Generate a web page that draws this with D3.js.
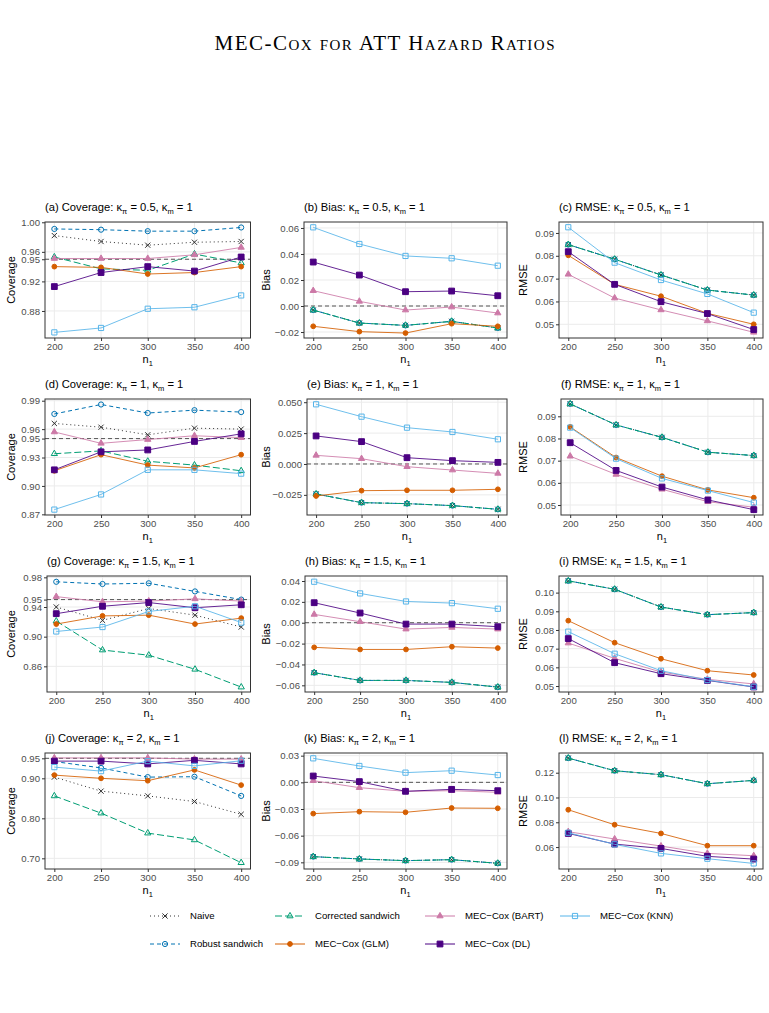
<!DOCTYPE html>
<html>
<head>
<meta charset="utf-8">
<script src="https://cdn.jsdelivr.net/npm/d3@7"></script>
<style>
  body { margin: 0; background: #fff; }
  text { font-family: "Liberation Sans", Arial, sans-serif; }
</style>
</head>
<body>
<div id="chart"></div>
<script>
// x values and series
var n1 = [200, 250, 300, 350, 400];
var seriesKeys = ["naive", "robust", "corrected", "glm", "bart", "dl", "knn"];
var seriesNames = ["Naive", "Robust sandwich", "Corrected sandwich", "MEC\u2212Cox (GLM)",
                   "MEC\u2212Cox (BART)", "MEC\u2212Cox (DL)", "MEC\u2212Cox (KNN)"];

// (a) coverage, kappa_pi = 0.5
var covA_naive     = [0.982, 0.974, 0.969, 0.973, 0.974];
var covA_robust    = [0.991, 0.990, 0.988, 0.988, 0.993];
var covA_corrected = [0.953, 0.937, 0.935, 0.957, 0.945];
var covA_glm       = [0.940, 0.939, 0.930, 0.932, 0.940];
var covA_bart      = [0.951, 0.951, 0.951, 0.956, 0.966];
var covA_dl        = [0.913, 0.932, 0.940, 0.934, 0.953];
var covA_knn       = [0.851, 0.857, 0.883, 0.885, 0.901];
// (b) bias
var biasB_sandwich = [-0.0031, -0.0131, -0.0149, -0.0118, -0.0169];
var biasB_glm      = [-0.0156, -0.0197, -0.0208, -0.0136, -0.0156];
var biasB_bart     = [0.0118, 0.0036, -0.0031, -0.0008, -0.0054];
var biasB_dl       = [0.0338, 0.0238, 0.0110, 0.0115, 0.0079];
var biasB_knn      = [0.0605, 0.0477, 0.0385, 0.0367, 0.0310];
// (c) rmse
var rmseC_sandwich = [0.0849, 0.0785, 0.0716, 0.0650, 0.0628];
var rmseC_glm      = [0.0802, 0.0675, 0.0623, 0.0548, 0.0500];
var rmseC_bart     = [0.0719, 0.0615, 0.0563, 0.0515, 0.0465];
var rmseC_dl       = [0.0818, 0.0675, 0.0599, 0.0547, 0.0477];
var rmseC_knn      = [0.0925, 0.0770, 0.0694, 0.0633, 0.0551];

// (d) coverage, kappa_pi = 1
var covD_naive     = [0.966, 0.962, 0.954, 0.961, 0.960];
var covD_robust    = [0.976, 0.986, 0.977, 0.980, 0.978];
var covD_corrected = [0.934, 0.937, 0.926, 0.922, 0.916];
var covD_glm       = [0.916, 0.933, 0.922, 0.919, 0.933];
var covD_bart      = [0.957, 0.945, 0.949, 0.953, 0.951];
var covD_dl        = [0.917, 0.936, 0.938, 0.947, 0.955];
var covD_knn       = [0.875, 0.891, 0.917, 0.917, 0.913];
// (e) bias
var biasE_sandwich = [-0.0243, -0.0313, -0.0321, -0.0337, -0.0367];
var biasE_glm      = [-0.0259, -0.0216, -0.0213, -0.0213, -0.0205];
var biasE_bart     = [0.0070, 0.0043, -0.0022, -0.0049, -0.0076];
var biasE_dl       = [0.0227, 0.0181, 0.0051, 0.0027, 0.0013];
var biasE_knn      = [0.0483, 0.0383, 0.0294, 0.0259, 0.0200];
// (f) rmse
var rmseF_sandwich = [0.0956, 0.0861, 0.0805, 0.0738, 0.0723];
var rmseF_glm      = [0.0852, 0.0714, 0.0630, 0.0568, 0.0533];
var rmseF_bart     = [0.0720, 0.0638, 0.0571, 0.0515, 0.0490];
var rmseF_dl       = [0.0781, 0.0656, 0.0581, 0.0523, 0.0479];
var rmseF_knn      = [0.0849, 0.0709, 0.0620, 0.0565, 0.0511];

// (g) coverage, kappa_pi = 1.5
var covG_naive     = [0.940, 0.922, 0.938, 0.929, 0.913];
var covG_robust    = [0.974, 0.971, 0.972, 0.961, 0.950];
var covG_corrected = [0.921, 0.882, 0.875, 0.856, 0.832];
var covG_glm       = [0.917, 0.928, 0.929, 0.917, 0.925];
var covG_bart      = [0.954, 0.947, 0.948, 0.951, 0.948];
var covG_dl        = [0.931, 0.941, 0.946, 0.939, 0.943];
var covG_knn       = [0.907, 0.913, 0.934, 0.941, 0.919];
// (h) bias
var biasH_sandwich = [-0.0479, -0.0553, -0.0553, -0.0572, -0.0617];
var biasH_glm      = [-0.0236, -0.0256, -0.0256, -0.0230, -0.0243];
var biasH_bart     = [0.0080, 0.0010, -0.0061, -0.0045, -0.0061];
var biasH_dl       = [0.0192, 0.0093, -0.0013, -0.0013, -0.0038];
var biasH_knn      = [0.0393, 0.0281, 0.0204, 0.0188, 0.0134];
// (i) rmse
var rmseI_sandwich = [0.1063, 0.1018, 0.0923, 0.0882, 0.0893];
var rmseI_glm      = [0.0850, 0.0732, 0.0646, 0.0582, 0.0559];
var rmseI_bart     = [0.0730, 0.0648, 0.0575, 0.0536, 0.0511];
var rmseI_dl       = [0.0754, 0.0625, 0.0566, 0.0530, 0.0495];
var rmseI_knn      = [0.0791, 0.0673, 0.0582, 0.0532, 0.0496];

// (j) coverage, kappa_pi = 2
var covJ_naive     = [0.903, 0.868, 0.856, 0.842, 0.810];
var covJ_robust    = [0.942, 0.926, 0.903, 0.904, 0.856];
var covJ_corrected = [0.856, 0.813, 0.763, 0.746, 0.689];
var covJ_glm       = [0.908, 0.900, 0.894, 0.921, 0.883];
var covJ_bart      = [0.951, 0.951, 0.951, 0.948, 0.948];
var covJ_dl        = [0.943, 0.943, 0.936, 0.945, 0.936];
var covJ_knn       = [0.928, 0.918, 0.943, 0.931, 0.944];
// (k) bias
var biasK_sandwich = [-0.0836, -0.0862, -0.0881, -0.0870, -0.0911];
var biasK_glm      = [-0.0352, -0.0330, -0.0337, -0.0289, -0.0292];
var biasK_bart     = [0.0019, -0.0060, -0.0101, -0.0094, -0.0112];
var biasK_dl       = [0.0071, 0.0008, -0.0101, -0.0079, -0.0094];
var biasK_knn      = [0.0270, 0.0184, 0.0109, 0.0131, 0.0082];
// (l) rmse
var rmseL_sandwich = [0.1318, 0.1216, 0.1184, 0.1111, 0.1138];
var rmseL_glm      = [0.0901, 0.0780, 0.0710, 0.0611, 0.0611];
var rmseL_bart     = [0.0724, 0.0665, 0.0608, 0.0549, 0.0530];
var rmseL_dl       = [0.0710, 0.0624, 0.0589, 0.0525, 0.0503];
var rmseL_knn      = [0.0716, 0.0622, 0.0549, 0.0506, 0.0468];

// tick labels
var ticksA = [0.88, 0.92, 0.95, 0.96, 1.00];
var ticksB = [-0.02, 0.00, 0.02, 0.04, 0.06];
var ticksC = [0.05, 0.06, 0.07, 0.08, 0.09];
var ticksD = [0.87, 0.90, 0.93, 0.95, 0.96, 0.99];
var ticksE = [-0.025, 0.000, 0.025, 0.050];
var ticksF = [0.05, 0.06, 0.07, 0.08, 0.09];
var ticksG = [0.86, 0.90, 0.94, 0.95, 0.98];
var ticksH = [-0.06, -0.04, -0.02, 0.00, 0.02, 0.04];
var ticksI = [0.05, 0.06, 0.07, 0.08, 0.09, 0.10];
var ticksJ = [0.70, 0.80, 0.90, 0.95];
var ticksK = [-0.09, -0.06, -0.03, 0.00, 0.03];
var ticksL = [0.06, 0.08, 0.10, 0.12];
var kappaPi = ["0.5", "1", "1.5", "2"];

// layout
var width = 769, height = 1013;
var rowTop = [222, 399, 576, 753];
var panelH = 116;
var colRight = [250.5, 507, 763];
var yTitleX = [11, 266, 523];

var styles = {
    naive:     { color: "#333333", dash: "1,3", shape: "times",    fill: false, size: 2.6 },
    robust:    { color: "#0072B2", dash: "4,3", shape: "circle",   fill: false, size: 2.6 },
    corrected: { color: "#009E73", dash: "7,3", shape: "triangle", fill: false, size: 3.6 },
    glm:       { color: "#D55E00", dash: null,  shape: "circle",   fill: true,  size: 2.4 },
    bart:      { color: "#CC79A7", dash: null,  shape: "triangle", fill: true,  size: 3.6 },
    dl:        { color: "#4B0082", dash: null,  shape: "square",   fill: true,  size: 2.9 },
    knn:       { color: "#56B4E9", dash: null,  shape: "square",   fill: false, size: 2.6 }
};

function covSet(naive, robust, corrected, glm, bart, dl, knn) {
    return { naive: naive, robust: robust, corrected: corrected, glm: glm, bart: bart, dl: dl, knn: knn };
}
function estSet(sandwich, glm, bart, dl, knn) {
    // naive, robust and corrected sandwich share the same point estimate
    return { naive: sandwich, robust: sandwich, corrected: sandwich, glm: glm, bart: bart, dl: dl, knn: knn };
}

var panels = [
  { tag: "a", kind: "Coverage", row: 0, col: 0, left: 45,  domain: [0.8434, 1.0004], ticks: ticksA, fmt: ".2f", ref: 0.95,
    data: covSet(covA_naive, covA_robust, covA_corrected, covA_glm, covA_bart, covA_dl, covA_knn) },
  { tag: "b", kind: "Bias", row: 0, col: 1, left: 304, domain: [-0.0246, 0.0646], ticks: ticksB, fmt: ".2f", ref: 0,
    data: estSet(biasB_sandwich, biasB_glm, biasB_bart, biasB_dl, biasB_knn) },
  { tag: "c", kind: "RMSE", row: 0, col: 2, left: 559, domain: [0.0440, 0.0948], ticks: ticksC, fmt: ".2f", ref: null,
    data: estSet(rmseC_sandwich, rmseC_glm, rmseC_bart, rmseC_dl, rmseC_knn) },
  { tag: "d", kind: "Coverage", row: 1, col: 0, left: 45,  domain: [0.8693, 0.9918], ticks: ticksD, fmt: ".2f", ref: 0.95,
    data: covSet(covD_naive, covD_robust, covD_corrected, covD_glm, covD_bart, covD_dl, covD_knn) },
  { tag: "e", kind: "Bias", row: 1, col: 1, left: 307, domain: [-0.0413, 0.0526], ticks: ticksE, fmt: ".3f", ref: 0,
    data: estSet(biasE_sandwich, biasE_glm, biasE_bart, biasE_dl, biasE_knn) },
  { tag: "f", kind: "RMSE", row: 1, col: 2, left: 561, domain: [0.0455, 0.0978], ticks: ticksF, fmt: ".2f", ref: null,
    data: estSet(rmseF_sandwich, rmseF_glm, rmseF_bart, rmseF_dl, rmseF_knn) },
  { tag: "g", kind: "Coverage", row: 2, col: 0, left: 47,  domain: [0.8254, 0.9818], ticks: ticksG, fmt: ".2f", ref: 0.95,
    data: covSet(covG_naive, covG_robust, covG_corrected, covG_glm, covG_bart, covG_dl, covG_knn) },
  { tag: "h", kind: "Bias", row: 2, col: 1, left: 305, domain: [-0.0664, 0.0448], ticks: ticksH, fmt: ".2f", ref: 0,
    data: estSet(biasH_sandwich, biasH_glm, biasH_bart, biasH_dl, biasH_knn) },
  { tag: "i", kind: "RMSE", row: 2, col: 2, left: 559, domain: [0.0468, 0.1089], ticks: ticksI, fmt: ".2f", ref: null,
    data: estSet(rmseI_sandwich, rmseI_glm, rmseI_bart, rmseI_dl, rmseI_knn) },
  { tag: "j", kind: "Coverage", row: 3, col: 0, left: 45,  domain: [0.6733, 0.9633], ticks: ticksJ, fmt: ".2f", ref: 0.95,
    data: covSet(covJ_naive, covJ_robust, covJ_corrected, covJ_glm, covJ_bart, covJ_dl, covJ_knn) },
  { tag: "k", kind: "Bias", row: 3, col: 1, left: 304, domain: [-0.0975, 0.0330], ticks: ticksK, fmt: ".2f", ref: 0,
    data: estSet(biasK_sandwich, biasK_glm, biasK_bart, biasK_dl, biasK_knn) },
  { tag: "l", kind: "RMSE", row: 3, col: 2, left: 559, domain: [0.0423, 0.1359], ticks: ticksL, fmt: ".2f", ref: null,
    data: estSet(rmseL_sandwich, rmseL_glm, rmseL_bart, rmseL_dl, rmseL_knn) }
];

// "x" marker for the naive estimator
var symbolX = {
    draw: function (context, size) {
        var r = Math.sqrt(size) / 2;
        context.moveTo(-r, -r); context.lineTo(r, r);
        context.moveTo(r, -r); context.lineTo(-r, r);
    }
};

function markerPath(st) {
    var s = st.size;
    var type, area;
    if (st.shape === "circle") { type = d3.symbolCircle; area = Math.PI * s * s; }
    else if (st.shape === "square") { type = d3.symbolSquare; area = 4 * s * s; }
    else if (st.shape === "triangle") { type = d3.symbolTriangle; area = s * s * 1.3; }
    else { type = symbolX; area = 4 * s * s; }
    return d3.symbol().type(type).size(area)();
}

var svg = d3.select("#chart").append("svg")
    .attr("width", width)
    .attr("height", height);

svg.append("rect").attr("width", width).attr("height", height).attr("fill", "#fff");

svg.append("text")
    .attr("x", width / 2)
    .attr("y", 50)
    .attr("text-anchor", "middle")
    .attr("textLength", 340)
    .attr("lengthAdjust", "spacing")
    .style("font-family", "'Liberation Serif', 'DejaVu Serif', serif")
    .style("font-variant", "small-caps")
    .style("font-size", "21px")
    .text("MEC-Cox for ATT Hazard Ratios");

function drawPanel(p, i) {
    var top = rowTop[p.row], bottom = top + panelH;
    var left = p.left, right = colRight[p.col];

    var xScale = d3.scaleLinear().domain([190, 410]).range([left, right]);
    var yScale = d3.scaleLinear().domain(p.domain).range([bottom, top]);

    var g = svg.append("g");

    g.append("clipPath").attr("id", "clip" + i)
        .append("rect")
        .attr("x", left).attr("y", top)
        .attr("width", right - left).attr("height", bottom - top);

    // grid
    g.append("g").selectAll("line").data(n1).join("line")
        .attr("x1", d => xScale(d)).attr("x2", d => xScale(d))
        .attr("y1", top).attr("y2", bottom)
        .attr("stroke", "#ebebeb").attr("stroke-width", 1);
    g.append("g").selectAll("line").data(p.ticks).join("line")
        .attr("x1", left).attr("x2", right)
        .attr("y1", d => yScale(d)).attr("y2", d => yScale(d))
        .attr("stroke", "#ebebeb").attr("stroke-width", 1);

    // reference line
    if (p.ref !== null) {
        g.append("line")
            .attr("x1", left).attr("x2", right)
            .attr("y1", yScale(p.ref)).attr("y2", yScale(p.ref))
            .attr("stroke", "#555").attr("stroke-width", 1)
            .attr("stroke-dasharray", "4,3");
    }

    var plot = g.append("g").attr("clip-path", "url(#clip" + i + ")");

    var line = d3.line()
        .x((d, j) => xScale(n1[j]))
        .y(d => yScale(d));

    seriesKeys.forEach(function (key) {
        var st = styles[key];
        var vals = p.data[key];
        plot.append("path")
            .datum(vals)
            .attr("d", line)
            .attr("fill", "none")
            .attr("stroke", st.color)
            .attr("stroke-width", 1)
            .attr("stroke-opacity", st.dash ? 1 : 0.85)
            .attr("stroke-dasharray", st.dash);
        plot.append("g").selectAll("path")
            .data(vals)
            .join("path")
            .attr("transform", (d, j) => "translate(" + xScale(n1[j]) + "," + yScale(d) + ")")
            .attr("d", markerPath(st))
            .attr("fill", st.fill ? st.color : "none")
            .attr("stroke", st.color)
            .attr("stroke-width", 1);
    });

    // panel border
    g.append("rect")
        .attr("x", left).attr("y", top)
        .attr("width", right - left).attr("height", bottom - top)
        .attr("fill", "none").attr("stroke", "#333").attr("stroke-width", 1);

    var yAxis = d3.axisLeft(yScale).tickValues(p.ticks)
        .tickFormat(d3.format(p.fmt)).tickSize(3).tickPadding(2);
    var xAxis = d3.axisBottom(xScale).tickValues(n1)
        .tickFormat(d3.format("d")).tickSize(3).tickPadding(2);

    var ya = g.append("g").attr("transform", "translate(" + left + ",0)").call(yAxis);
    var xa = g.append("g").attr("transform", "translate(0," + bottom + ")").call(xAxis);
    [ya, xa].forEach(function (a) {
        a.select(".domain").remove();
        a.selectAll(".tick line").attr("stroke", "#333");
        a.selectAll(".tick text")
            .attr("fill", "#4d4d4d")
            .style("font-size", "9.6px")
            .style("font-family", "'Liberation Sans', Arial, sans-serif");
    });

    // axis titles
    g.append("text")
        .attr("transform", "translate(" + yTitleX[p.col] + "," + (top + bottom) / 2 + ") rotate(-90)")
        .attr("text-anchor", "middle")
        .attr("dy", "0.35em")
        .style("font-size", "11px")
        .text(p.kind);

    var xt = g.append("text")
        .attr("x", (left + right) / 2)
        .attr("y", bottom + 25)
        .attr("text-anchor", "middle")
        .style("font-size", "11px");
    xt.append("tspan").text("n");
    xt.append("tspan").attr("dy", 3).style("font-size", "7.5px").text("1");

    // panel title
    var t = g.append("text")
        .attr("x", left)
        .attr("y", top - 11)
        .style("font-size", "11.2px");
    t.append("tspan").text("(" + p.tag + ") " + p.kind + ": \u03BA");
    t.append("tspan").attr("dy", 2.5).style("font-size", "7.5px").text("\u03C0");
    t.append("tspan").attr("dy", -2.5).text(" = " + kappaPi[p.row] + ", \u03BA");
    t.append("tspan").attr("dy", 2.5).style("font-size", "7.5px").text("m");
    t.append("tspan").attr("dy", -2.5).text(" = 1");
}

panels.forEach(drawPanel);

// legend
var legendX = [148, 273, 423, 558];
var legendY = [916, 944];
var legend = svg.append("g");
seriesKeys.forEach(function (key, i) {
    var st = styles[key];
    var lx = legendX[Math.floor(i / 2)], ly = legendY[i % 2];
    var item = legend.append("g").attr("transform", "translate(" + lx + "," + ly + ")");
    item.append("line")
        .attr("x1", 2).attr("x2", 32)
        .attr("stroke", st.color).attr("stroke-width", 1)
        .attr("stroke-dasharray", st.dash);
    item.append("path")
        .attr("transform", "translate(17,0)")
        .attr("d", markerPath(st))
        .attr("fill", st.fill ? st.color : "none")
        .attr("stroke", st.color).attr("stroke-width", 1);
    item.append("text")
        .attr("x", 42).attr("dy", "0.35em")
        .style("font-size", "9.6px")
        .text(seriesNames[i]);
});
</script>
</body>
</html>
